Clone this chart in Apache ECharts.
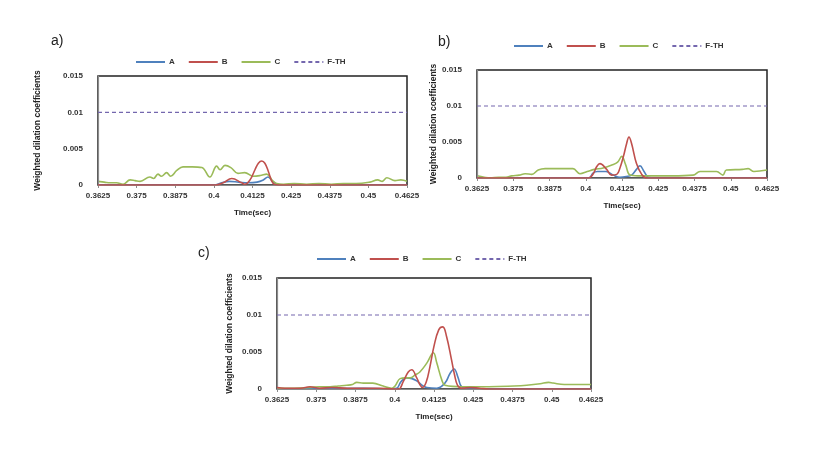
<!DOCTYPE html>
<html>
<head>
<meta charset="utf-8">
<script src="https://cdn.jsdelivr.net/npm/echarts@6/dist/echarts.min.js"></script>
<style>
  html, body { margin: 0; padding: 0; background: #fff; }
  #chart { width: 818px; height: 474px; }
</style>
</head>
<body>
<div id="chart"></div>
<script>
// x axis ticks (seconds)
var xMin = 0.3625, xMax = 0.4625, xStep = 0.0125;
var yMin = 0, yMax = 0.015, yStep = 0.005;
var seriesNames = ['A', 'B', 'C', 'F-TH'];
var threshold = 0.01;

// panel a)
var aTimeA = [0.3625, 0.4000, 0.4025, 0.4050, 0.4080, 0.4110, 0.4140, 0.4160, 0.4175, 0.4190, 0.4205, 0.4230, 0.4625];
var aValA  = [0, 0, 0.0003, 0.0005, 0.0004, 0.0003, 0.0004, 0.0007, 0.0011, 0.0005, 0.0001, 0, 0];
var aTimeB = [0.3625, 0.4005, 0.4030, 0.4058, 0.4090, 0.4100, 0.4117, 0.4133, 0.4144, 0.4155, 0.4165, 0.4176, 0.4192, 0.4210, 0.4625];
var aValB  = [0, 0, 0.0003, 0.0009, 0.0003, 0.0001, 0.0007, 0.0021, 0.0030, 0.0033, 0.0030, 0.0019, 0.0002, 0, 0];
var aTimeC = [0.3625, 0.3645, 0.3665, 0.3685, 0.3706, 0.3729, 0.3745, 0.3761, 0.3793, 0.3805, 0.3819, 0.3830,
              0.3847, 0.3860, 0.3880, 0.3900, 0.3930, 0.3961, 0.3987, 0.4009, 0.4020, 0.4036, 0.4055, 0.4078,
              0.4100, 0.4127, 0.4150, 0.4171, 0.4190, 0.4203, 0.4225, 0.4260, 0.4300, 0.4340, 0.4380, 0.4420,
              0.4460, 0.4505, 0.4530, 0.4545, 0.4560, 0.4586, 0.4605, 0.4625];
var aValC  = [0.0005, 0.0004, 0.0003, 0.0003, 0.0001, 0.0007, 0.0006, 0.0005, 0.0011, 0.0009, 0.0015, 0.0012,
              0.0017, 0.0012, 0.0020, 0.0025, 0.0025, 0.0024, 0.0011, 0.0026, 0.0021, 0.0027, 0.0024, 0.0016,
              0.0017, 0.0012, 0.0013, 0.0015, 0.0006, 0.0002, 0.0001, 0.0002, 0.0001, 0.0002, 0.0001, 0.0002,
              0.0002, 0.0004, 0.0007, 0.0005, 0.0010, 0.0006, 0.0007, 0.0005];

// panel b)
var bTimeA = [0.3625, 0.4009, 0.4026, 0.4040, 0.4070, 0.4095, 0.4118, 0.4140, 0.4158, 0.4175, 0.4187, 0.4201, 0.4216, 0.4240, 0.4625];
var bValA  = [0, 0, 0.0007, 0.0009, 0.0009, 0.0004, 0.0001, 0.0002, 0.0004, 0.0012, 0.0017, 0.0009, 0.0001, 0, 0];
var bTimeB = [0.3625, 0.4010, 0.4026, 0.4038, 0.4049, 0.4072, 0.4089, 0.4107, 0.4118, 0.4130, 0.4141, 0.4149, 0.4158,
              0.4175, 0.4193, 0.4210, 0.4625];
var bValB  = [0, 0, 0.0006, 0.0016, 0.0020, 0.0012, 0.0004, 0.0005, 0.0014, 0.0030, 0.0048, 0.0057, 0.0048,
              0.0020, 0.0005, 0, 0];
var bTimeC = [0.3625, 0.3650, 0.3670, 0.3700, 0.3725, 0.3745, 0.3770, 0.3791, 0.3814, 0.3836, 0.3860, 0.3911,
              0.3956, 0.3980, 0.4005, 0.4030, 0.4060, 0.4090, 0.4110, 0.4124, 0.4137, 0.4153, 0.4180, 0.4220,
              0.4300, 0.4370, 0.4394, 0.4451, 0.4473, 0.4485, 0.4540, 0.4560, 0.4580, 0.4625];
var bValC  = [0.0003, 0.0001, 0, 0.0001, 0.0001, 0.0003, 0.0004, 0.0006, 0.0005, 0.0011, 0.0013, 0.0013,
              0.0013, 0.0006, 0.0009, 0.0012, 0.0014, 0.0018, 0.0022, 0.0030, 0.0019, 0.0004, 0.0003, 0.0003,
              0.0003, 0.0004, 0.0009, 0.0009, 0.0004, 0.0011, 0.0012, 0.0013, 0.0009, 0.0011];

// panel c)
var cTimeA = [0.3625, 0.3900, 0.3980, 0.4006, 0.4020, 0.4038, 0.4055, 0.4070, 0.4090, 0.4102, 0.4134, 0.4160,
              0.4176, 0.4189, 0.4202, 0.4213, 0.4240, 0.4625];
var cValA  = [0, 0.0001, 0, 0.0001, 0.0010, 0.0015, 0.0014, 0.0011, 0.0004, 0.0002, 0.0001, 0.0008,
              0.0021, 0.0027, 0.0015, 0.0003, 0, 0];
var cTimeB = [0.3625, 0.3650, 0.3700, 0.3730, 0.3760, 0.3800, 0.3850, 0.3900, 0.3950, 0.4000, 0.4013, 0.4027,
              0.4043, 0.4054, 0.4070, 0.4080, 0.4088, 0.4100, 0.4112, 0.4125, 0.4140, 0.4153, 0.4165, 0.4181,
              0.4190, 0.4200, 0.4215, 0.4240, 0.4270, 0.4300, 0.4625];
var cValB  = [0.0002, 0.0001, 0.0001, 0.0003, 0.0001, 0.0002, 0.0001, 0.0001, 0.0001, 0, 0, 0.0010,
              0.0023, 0.0026, 0.0015, 0.0006, 0.0002, 0.0009, 0.0030, 0.0058, 0.0080, 0.0084, 0.0071, 0.0039,
              0.0020, 0.0005, 0.0001, 0.0002, 0.0001, 0, 0];
var cTimeC = [0.3625, 0.3680, 0.3730, 0.3760, 0.3794, 0.3820, 0.3847, 0.3865, 0.3879, 0.3900, 0.3930, 0.3963,
              0.3990, 0.4001, 0.4017, 0.4035, 0.4049, 0.4065, 0.4080, 0.4102, 0.4123, 0.4134, 0.4150, 0.4160,
              0.4217, 0.4300, 0.4380, 0.4420, 0.4463, 0.4490, 0.4504, 0.4540, 0.4625];
var cValC  = [0.0001, 0.0001, 0.0002, 0.0003, 0.0003, 0.0004, 0.0005, 0.0006, 0.0009, 0.0008, 0.0008, 0.0004,
              0.0001, 0.0004, 0.0014, 0.0015, 0.0015, 0.0019, 0.0023, 0.0035, 0.0049, 0.0035, 0.0012, 0.0005,
              0.0003, 0.0003, 0.0004, 0.0005, 0.0007, 0.0009, 0.0008, 0.0006, 0.0006];

var colors = { 'A': '#4F81BD', 'B': '#C0504D', 'C': '#9BBB59', 'F-TH': '#7467AE' };
var FONT = 'Liberation Sans';

function zip(t, v) {
    var out = [];
    for (var i = 0; i < t.length; i++) {
        out.push([t[i], v[i]]);
    }
    return out;
}

function tidy(v) {
    return String(+v.toFixed(4));
}

var panels = [
    { grid: { left: 98, top: 76, width: 309, height: 109 }, legendLeft: 135, legendTop: 58, nameGap: 56,
      A: zip(aTimeA, aValA), B: zip(aTimeB, aValB), C: zip(aTimeC, aValC) },
    { grid: { left: 477, top: 70, width: 290, height: 108 }, legendLeft: 513, legendTop: 42, nameGap: 36,
      A: zip(bTimeA, bValA), B: zip(bTimeB, bValB), C: zip(bTimeC, bValC) },
    { grid: { left: 277, top: 278, width: 314, height: 111 }, legendLeft: 316, legendTop: 255, nameGap: 43,
      A: zip(cTimeA, cValA), B: zip(cTimeB, cValB), C: zip(cTimeC, cValC) }
];

var grids = [], xAxes = [], yAxes = [], legends = [], series = [];

panels.forEach(function (p, i) {
    grids.push({
        left: p.grid.left, top: p.grid.top, width: p.grid.width, height: p.grid.height,
        show: true, borderColor: '#222', borderWidth: 1.5, backgroundColor: 'transparent'
    });
    xAxes.push({
        gridIndex: i, type: 'value', min: xMin, max: xMax, interval: xStep, z: 3,
        name: 'Time(sec)', nameLocation: 'middle', nameGap: 24,
        nameTextStyle: { fontFamily: FONT, fontSize: 8, fontWeight: 'bold', color: '#222' },
        axisLine: { show: true, onZero: false, lineStyle: { color: '#8c8c8c', width: 1.2 } },
        axisTick: { show: true, length: 3, lineStyle: { color: '#8c8c8c' } },
        axisLabel: { fontFamily: FONT, fontSize: 8, fontWeight: 'bold', color: '#333', margin: 7,
                     formatter: tidy, showMinLabel: true, showMaxLabel: true },
        splitLine: { show: false }
    });
    yAxes.push({
        gridIndex: i, type: 'value', min: yMin, max: yMax, interval: yStep, z: 3,
        name: 'Weighted dilation coefficients', nameLocation: 'middle', nameGap: p.nameGap, nameRotate: 90,
        nameTextStyle: { fontFamily: FONT, fontSize: 8.5, fontWeight: 'bold', color: '#222' },
        axisLine: { show: true, lineStyle: { color: '#8c8c8c', width: 1.2 } },
        axisTick: { show: false },
        axisLabel: { fontFamily: FONT, fontSize: 8, fontWeight: 'bold', color: '#333', margin: 15, formatter: tidy },
        splitLine: { show: false }
    });
    legends.push({
        left: p.legendLeft, top: p.legendTop, padding: 0, itemWidth: 29, itemHeight: 8, itemGap: 13,
        selectedMode: false, data: seriesNames,
        itemStyle: { opacity: 0 },
        textStyle: { fontFamily: FONT, fontSize: 8, fontWeight: 'bold', color: '#333', padding: [0, 0, 0, -1] }
    });
    ['A', 'B', 'C'].forEach(function (n) {
        series.push({
            name: n, type: 'line', xAxisIndex: i, yAxisIndex: i, data: p[n],
            showSymbol: false, symbol: 'none', smooth: 0.4,
            lineStyle: { color: colors[n], width: 1.6 }, itemStyle: { color: colors[n] },
            z: n === 'B' ? 3 : 2
        });
    });
    series.push({
        name: 'F-TH', type: 'line', xAxisIndex: i, yAxisIndex: i,
        data: [[xMin, threshold], [xMax, threshold]],
        showSymbol: false, symbol: 'none',
        lineStyle: { color: colors['F-TH'], width: 1.2, type: [4, 3] }, itemStyle: { color: colors['F-TH'] }
    });
});

var chart = echarts.init(document.getElementById('chart'));
chart.setOption({
    backgroundColor: '#fff',
    animation: false,
    grid: grids,
    xAxis: xAxes,
    yAxis: yAxes,
    legend: legends,
    series: series,
    graphic: [
        { type: 'text', left: 51, top: 34, style: { text: 'a)', font: '14px Liberation Sans', fill: '#222' } },
        { type: 'text', left: 438, top: 35, style: { text: 'b)', font: '14px Liberation Sans', fill: '#222' } },
        { type: 'text', left: 198, top: 246, style: { text: 'c)', font: '14px Liberation Sans', fill: '#222' } }
    ]
});
window.onresize = function () {
    chart.resize();
};
</script>
</body>
</html>
